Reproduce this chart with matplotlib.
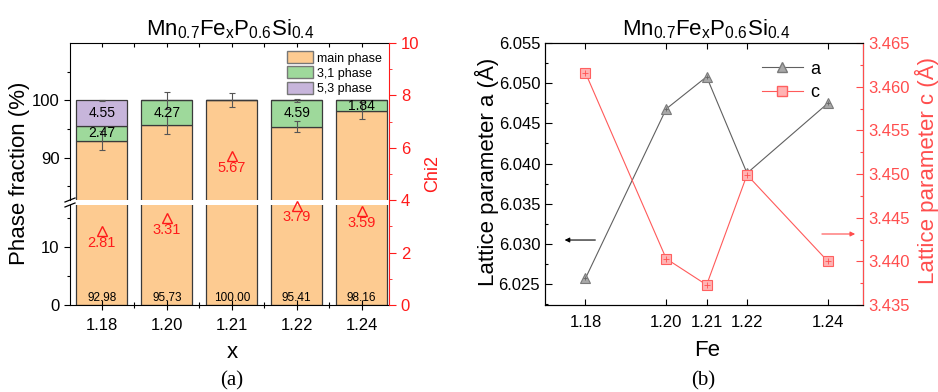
import matplotlib
matplotlib.use("Agg")
import matplotlib.pyplot as plt
import numpy as np
from matplotlib.lines import Line2D
from matplotlib.patches import Patch

plt.rcParams['font.family'] = ['Liberation Sans', 'DejaVu Sans']
plt.rcParams['mathtext.default'] = 'regular'

# ---- data, panel (a) ----
x_labels = ['1.18', '1.20', '1.21', '1.22', '1.24']
main_phase = [92.98, 95.73, 100.00, 95.41, 98.16]
phase_31 = [2.47, 4.27, 0.0, 4.59, 1.84]
phase_53 = [4.55, 0.0, 0.0, 0.0, 0.0]
main_err = [1.6, 1.6, 1.2, 1.0, 1.5]
total_err = [0.1, 1.5, 0.0, 0.3, 0.0]
chi2 = [2.81, 3.31, 5.67, 3.79, 3.59]

# ---- data, panel (b) ----
fe = [1.18, 1.20, 1.21, 1.22, 1.24]
lat_a = [6.0257, 6.0468, 6.0508, 6.0388, 6.0475]
lat_c = [3.4616, 3.4403, 3.4373, 3.4499, 3.4400]

c_main = '#fdcb91'
c_31 = '#9ed99b'
c_53 = '#c7b5db'
edge = '#3a3a3a'
red = '#ff1a1a'
red_b = '#ff4d4d'

W, H = 938, 392
fig = plt.figure(figsize=(W / 100, H / 100), dpi=100)


def fx(px):
    return px / W


def fy(py):
    return (H - py) / H


# ================= panel (a) =================
left, right = 70, 389
top, bottom = 43, 305
gap_top, gap_bot = 200, 205

ax_hi = fig.add_axes([fx(left), fy(gap_top), fx(right - left), fy(top) - fy(gap_top)])
ax_lo = fig.add_axes([fx(left), fy(bottom), fx(right - left), fy(gap_bot) - fy(bottom)])
ax_chi = fig.add_axes([fx(left), fy(bottom), fx(right - left), fy(top) - fy(bottom)])

pos = np.arange(1, len(x_labels) + 1)
main_phase = np.array(main_phase)
phase_31 = np.array(phase_31)
phase_53 = np.array(phase_53)

for ax in (ax_hi, ax_lo):
    ax.bar(pos, main_phase, width=0.78, color=c_main, edgecolor=edge, linewidth=0.9)
    ax.bar(pos, phase_31, bottom=main_phase, width=0.78, color=c_31, edgecolor=edge, linewidth=0.9)
    ax.bar(pos, phase_53, bottom=main_phase + phase_31, width=0.78, color=c_53,
           edgecolor=edge, linewidth=0.9)
    ax.set_xlim(0.51, 5.42)
    ax.spines['right'].set_visible(False)

ax_hi.set_ylim(82.6, 110)
ax_lo.set_ylim(0, 17.3)

# error bars
ax_hi.errorbar(pos, main_phase, yerr=main_err, fmt='none', ecolor='#555555',
               elinewidth=0.8, capsize=2.5, capthick=0.8)
te = np.array(total_err)
m = te > 0
ax_hi.errorbar(pos[m], (main_phase + phase_31 + phase_53)[m], yerr=te[m], fmt='none',
               ecolor='#555555', elinewidth=0.8, capsize=2.5, capthick=0.8)

# value labels
for i, p in enumerate(pos):
    ax_lo.text(p, 1.2, f'{main_phase[i]:.2f}', ha='center', va='center', fontsize=8.5)
    if phase_31[i] > 0:
        ax_hi.text(p, main_phase[i] + phase_31[i] / 2, f'{phase_31[i]:.2f}',
                   ha='center', va='center', fontsize=10)
    if phase_53[i] > 0:
        ax_hi.text(p, main_phase[i] + phase_31[i] + phase_53[i] / 2, f'{phase_53[i]:.2f}',
                   ha='center', va='center', fontsize=10)

# spines / ticks of the broken axis
ax_hi.spines['bottom'].set_visible(False)
ax_lo.spines['top'].set_visible(False)
ax_hi.set_yticks([90, 100])
ax_hi.set_yticks([85, 95, 105], minor=True)
ax_lo.set_yticks([0, 10])
ax_lo.set_yticks([5, 15], minor=True)
for ax in (ax_hi, ax_lo):
    ax.tick_params(axis='y', direction='out', length=4, width=0.8, labelsize=12)
    ax.tick_params(axis='y', which='minor', direction='out', length=2.5, width=0.8)
ax_hi.set_xticks(pos)
ax_hi.set_xticks(pos[:-1] + 0.5, minor=True)
ax_hi.tick_params(axis='x', which='both', bottom=False, top=True, labelbottom=False,
                  direction='in', length=3, width=0.8)
ax_lo.set_xticks(pos)
ax_lo.set_xticklabels(x_labels)
ax_lo.set_xticks(pos[:-1] + 0.5, minor=True)
ax_lo.tick_params(axis='x', direction='inout', length=7, width=0.8, labelsize=12, pad=6)
ax_lo.tick_params(axis='x', which='minor', direction='inout', length=4, width=0.8)

# break marks
for y0 in (fy(gap_top), fy(gap_bot)):
    fig.add_artist(Line2D([fx(left - 5), fx(left + 5)], [y0 - 2.0 / H, y0 + 2.0 / H],
                          color='black', lw=0.9))

legend_handles = [Patch(facecolor=c_main, edgecolor='#777777', label='main phase'),
                  Patch(facecolor=c_31, edgecolor='#777777', label='3,1 phase'),
                  Patch(facecolor=c_53, edgecolor='#777777', label='5,3 phase')]
ax_hi.legend(handles=legend_handles, loc='upper right', bbox_to_anchor=(1.0, 0.995),
             frameon=False, fontsize=9, handlelength=2.1, handleheight=1.1,
             labelspacing=0.15, handletextpad=0.3, borderaxespad=0.2)

# chi2 axis
ax_chi.patch.set_visible(False)
for s in ('left', 'top', 'bottom'):
    ax_chi.spines[s].set_visible(False)
ax_chi.spines['right'].set_color(red)
ax_chi.set_xlim(0.51, 5.42)
ax_chi.set_ylim(0, 10)
ax_chi.set_xticks([])
ax_chi.yaxis.tick_right()
ax_chi.set_yticks([0, 2, 4, 6, 8, 10])
ax_chi.set_yticks([1, 3, 5, 7, 9], minor=True)
ax_chi.tick_params(axis='y', colors=red, direction='out', length=5, width=0.8, labelsize=12)
ax_chi.tick_params(axis='y', which='minor', colors=red, direction='out', length=2.5)
ax_chi.plot(pos, chi2, linestyle='none', marker='^', markersize=7, markerfacecolor='none',
            markeredgecolor=red, markeredgewidth=1.0)
for i, p in enumerate(pos):
    ax_chi.text(p, chi2[i] - 0.45, f'{chi2[i]:.2f}', color=red, ha='center', va='center',
                fontsize=10.5)

fig.text(fx(230), fy(35), r'Mn$_{0.7}$Fe$_x$P$_{0.6}$Si$_{0.4}$', ha='center',
         va='baseline', fontsize=16)
fig.text(fx(20), fy(173), 'Phase fraction (%)', rotation=90, ha='center', va='center',
         fontsize=16)
fig.text(fx(433), fy(174), 'Chi2', rotation=90, ha='center', va='center', fontsize=13,
         color=red)
fig.text(fx(232), fy(358), 'x', ha='center', va='baseline', fontsize=16)
fig.text(fx(232), fy(385), '(a)', ha='center', va='baseline', fontsize=15,
         family='Liberation Serif')

# ================= panel (b) =================
bl, br = 545, 863
axb = fig.add_axes([fx(bl), fy(bottom), fx(br - bl), fy(top) - fy(bottom)])
axc = axb.twinx()

axb.plot(fe, lat_a, color='#606060', lw=0.8, marker='^', markersize=7.5,
         markerfacecolor='#a8a8a8', markeredgecolor='#7a7a7a', markeredgewidth=0.8, zorder=3)
axb.plot(fe, lat_a, linestyle='none', marker='+', markersize=3, color='#666666',
         markeredgewidth=0.6, zorder=4)
axc.plot(fe, lat_c, color='#ff5a5a', lw=0.8, marker='s', markersize=6.5,
         markerfacecolor='#ffb3b3', markeredgecolor='#ff6060', markeredgewidth=0.8, zorder=3)
axc.plot(fe, lat_c, linestyle='none', marker='+', markersize=5, color='#ff5050',
         markeredgewidth=0.6, zorder=4)

axb.set_xlim(1.170, 1.2487)
axb.set_ylim(6.0224, 6.055)
axc.set_ylim(3.435, 3.465)
axb.set_xticks(fe)
axb.set_xticklabels([f'{v:.2f}' for v in fe])
axb.set_yticks(np.arange(6.025, 6.0551, 0.005))
axb.set_yticks(np.arange(6.0225, 6.0551, 0.005), minor=True)
axb.yaxis.set_major_formatter(matplotlib.ticker.FormatStrFormatter('%.3f'))
axc.set_yticks(np.arange(3.435, 3.4651, 0.005))
axc.set_yticks(np.arange(3.4375, 3.465, 0.005), minor=True)
axc.yaxis.set_major_formatter(matplotlib.ticker.FormatStrFormatter('%.3f'))

axb.tick_params(axis='x', direction='in', top=True, length=4, width=0.8, labelsize=12, pad=7)
axb.tick_params(axis='y', direction='in', length=5, width=0.8, labelsize=12)
axb.tick_params(axis='y', which='minor', direction='in', length=2.5, width=0.8)
axc.tick_params(axis='y', colors=red_b, direction='in', length=5, width=0.8, labelsize=12)
axc.tick_params(axis='y', which='minor', colors=red_b, direction='in', length=2.5, width=0.8)
axc.spines['right'].set_color(red_b)

axb.annotate('', xy=(0.053, 0.248), xytext=(0.167, 0.248), xycoords='axes fraction',
             arrowprops=dict(arrowstyle='-|>', color='black', lw=0.8, mutation_scale=7))
axb.annotate('', xy=(0.984, 0.271), xytext=(0.862, 0.271), xycoords='axes fraction',
             arrowprops=dict(arrowstyle='-|>', color=red_b, lw=0.8, mutation_scale=7))

handles_b = [Line2D([], [], color='#606060', lw=0.8, marker='^', markersize=7.5,
                    markerfacecolor='#a8a8a8', markeredgecolor='#7a7a7a', label='a'),
             Line2D([], [], color='#ff5a5a', lw=0.8, marker='s', markersize=6.5,
                    markerfacecolor='#ffb3b3', markeredgecolor='#ff6060', label='c')]
axb.legend(handles=handles_b, loc='upper left', bbox_to_anchor=(0.63, 0.995), frameon=False,
           fontsize=13, handlelength=2.3, handletextpad=0.4, labelspacing=0.35)

fig.text(fx(706), fy(35), r'Mn$_{0.7}$Fe$_x$P$_{0.6}$Si$_{0.4}$', ha='center',
         va='baseline', fontsize=16)
fig.text(fx(487), fy(172), 'Lattice parameter a (Å)', rotation=90, ha='center',
         va='center', fontsize=16)
fig.text(fx(927), fy(170), 'Lattice parameter c (Å)', rotation=90, ha='center',
         va='center', fontsize=16, color=red_b)
fig.text(fx(707), fy(356), 'Fe', ha='center', va='baseline', fontsize=16)
fig.text(fx(703), fy(385), '(b)', ha='center', va='baseline', fontsize=15,
         family='Liberation Serif')

fig.savefig('out.png', dpi=100)
